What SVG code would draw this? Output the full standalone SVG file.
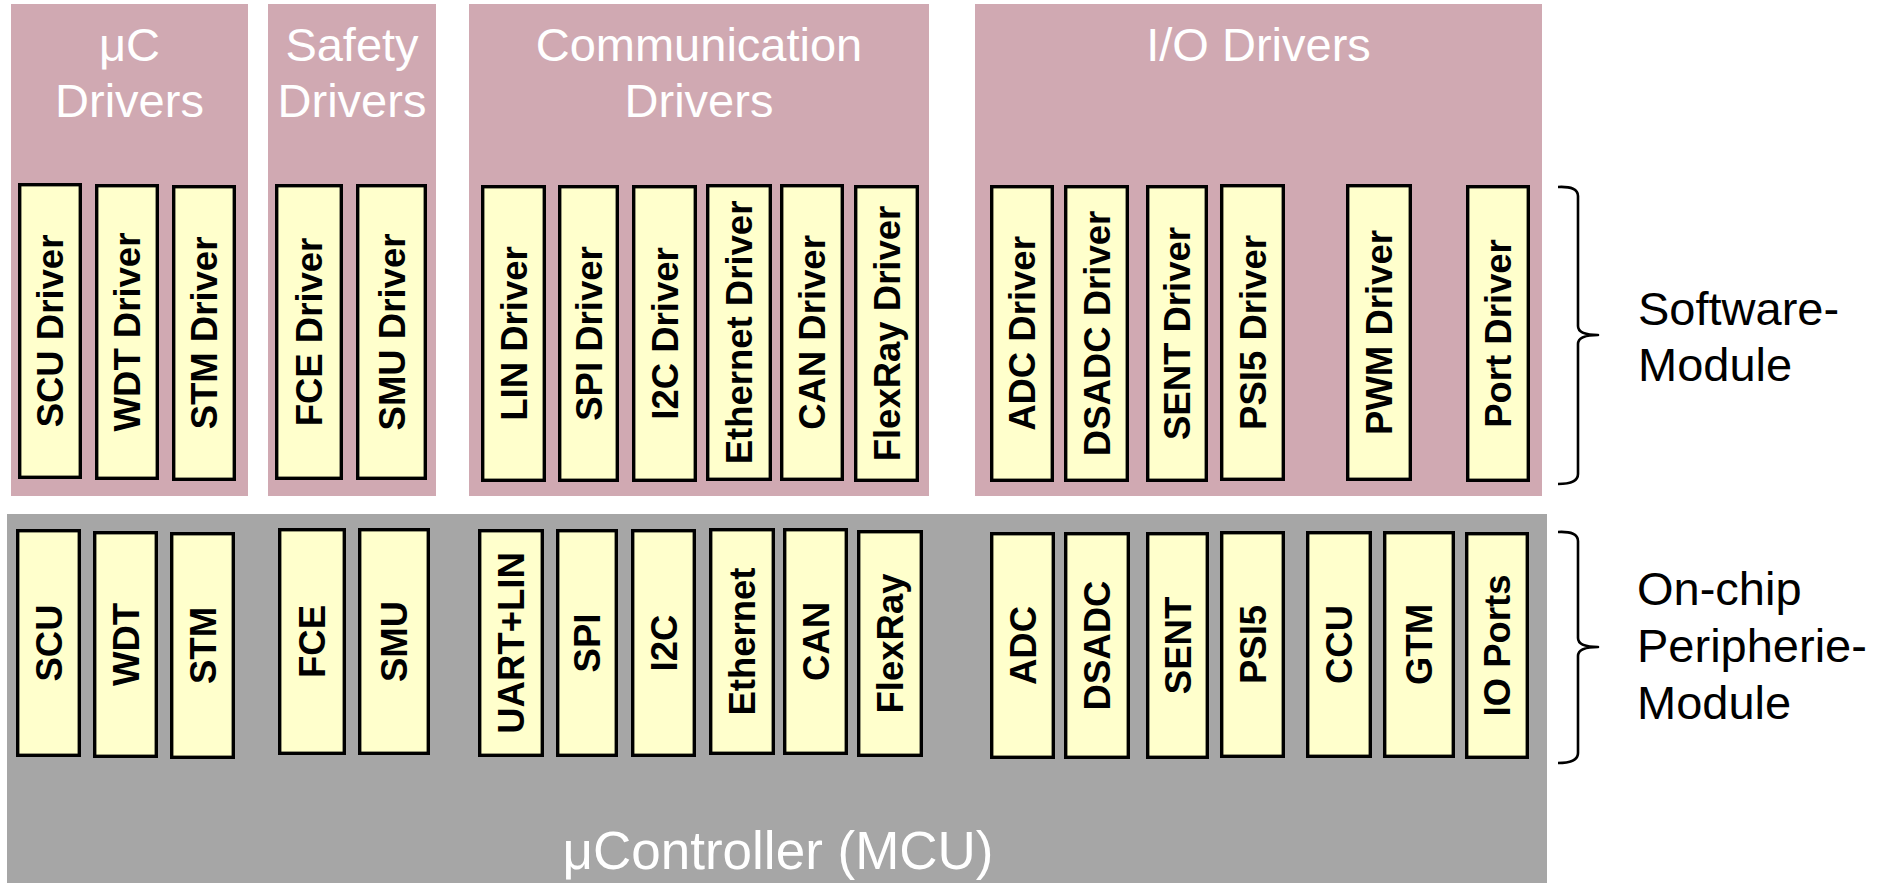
<svg xmlns="http://www.w3.org/2000/svg" width="1892" height="883" viewBox="0 0 1892 883">
  <style>
    .panel { fill: #D0A9B2; }
    .chip { fill: #A6A6A6; }
    .box { fill: #FFFFCC; stroke: #000000; stroke-width: 3.4; }
    .lbl { font-family: "Liberation Sans", Arial, Helvetica, sans-serif; font-weight: bold; font-size: 36.5px; fill: #000000; text-anchor: middle; }
    .head { font-family: "Liberation Sans", Arial, Helvetica, sans-serif; font-size: 47px; fill: #FFFFFF; text-anchor: middle; }
    .title { font-size: 53px; }
    .side { font-family: "Liberation Sans", Arial, Helvetica, sans-serif; font-size: 47px; fill: #000000; }
    .brace { fill: none; stroke: #000000; stroke-width: 2.6; stroke-linejoin: round; stroke-linecap: butt; }
  </style>

  <!-- background -->
  <rect x="0" y="0" width="1892" height="883" fill="#FFFFFF"/>

  <!-- microcontroller body -->
  <g id="mcu">
    <rect class="chip" x="7" y="514" width="1540" height="369"/>
    <text class="head title" x="778" y="869">μController (MCU)</text>
  </g>

  <!-- driver panels -->
  <g id="panel-uc">
    <rect class="panel" x="11" y="4" width="237" height="492"/>
    <text class="head" x="129.5" y="61">μC</text>
    <text class="head" x="129.5" y="117">Drivers</text>
  </g>
  <g id="panel-safety">
    <rect class="panel" x="268" y="4" width="168" height="492"/>
    <text class="head" x="352" y="61">Safety</text>
    <text class="head" x="352" y="117">Drivers</text>
  </g>
  <g id="panel-comm">
    <rect class="panel" x="469" y="4" width="460" height="492"/>
    <text class="head" x="699" y="61">Communication</text>
    <text class="head" x="699" y="117">Drivers</text>
  </g>
  <g id="panel-io">
    <rect class="panel" x="975" y="4" width="567" height="492"/>
    <text class="head" x="1258.5" y="61">I/O Drivers</text>
  </g>

  <!-- software modules (top row) -->
  <g id="sw-scu"><rect class="box" x="19.7" y="184.7" width="60.6" height="292.6"/><text class="lbl" transform="translate(50,331) rotate(-90)" y="13">SCU Driver</text></g>
  <g id="sw-wdt"><rect class="box" x="96.7" y="185.7" width="60.6" height="292.6"/><text class="lbl" transform="translate(127,332) rotate(-90)" y="13">WDT Driver</text></g>
  <g id="sw-stm"><rect class="box" x="173.7" y="186.7" width="60.6" height="292.6"/><text class="lbl" transform="translate(204,333) rotate(-90)" y="13">STM Driver</text></g>
  <g id="sw-fce"><rect class="box" x="276.7" y="185.7" width="64.6" height="292.6"/><text class="lbl" transform="translate(309,332) rotate(-90)" y="13">FCE Driver</text></g>
  <g id="sw-smu"><rect class="box" x="357.7" y="185.7" width="67.6" height="292.6"/><text class="lbl" transform="translate(391.5,332) rotate(-90)" y="13">SMU Driver</text></g>
  <g id="sw-lin"><rect class="box" x="482.7" y="186.7" width="61.6" height="293.6"/><text class="lbl" transform="translate(513.5,333.5) rotate(-90)" y="13">LIN Driver</text></g>
  <g id="sw-spi"><rect class="box" x="559.7" y="186.7" width="57.6" height="293.6"/><text class="lbl" transform="translate(588.5,333.5) rotate(-90)" y="13">SPI Driver</text></g>
  <g id="sw-i2c"><rect class="box" x="633.7" y="186.7" width="61.6" height="293.6"/><text class="lbl" transform="translate(664.5,333.5) rotate(-90)" y="13">I2C Driver</text></g>
  <g id="sw-eth"><rect class="box" x="707.7" y="185.7" width="62.6" height="293.6"/><text class="lbl" transform="translate(739,332.5) rotate(-90)" y="13">Ethernet Driver</text></g>
  <g id="sw-can"><rect class="box" x="781.7" y="185.7" width="60.6" height="293.6"/><text class="lbl" transform="translate(812,332.5) rotate(-90)" y="13">CAN Driver</text></g>
  <g id="sw-flexray"><rect class="box" x="855.7" y="186.7" width="61.6" height="293.6"/><text class="lbl" transform="translate(886.5,333.5) rotate(-90)" y="13">FlexRay Driver</text></g>
  <g id="sw-adc"><rect class="box" x="991.7" y="186.7" width="60.6" height="293.6"/><text class="lbl" transform="translate(1022,333.5) rotate(-90)" y="13">ADC Driver</text></g>
  <g id="sw-dsadc"><rect class="box" x="1065.7" y="186.7" width="61.6" height="293.6"/><text class="lbl" transform="translate(1096.5,333.5) rotate(-90)" y="13">DSADC Driver</text></g>
  <g id="sw-sent"><rect class="box" x="1147.7" y="186.7" width="58.6" height="293.6"/><text class="lbl" transform="translate(1177,333.5) rotate(-90)" y="13">SENT Driver</text></g>
  <g id="sw-psi5"><rect class="box" x="1221.7" y="185.7" width="61.6" height="293.6"/><text class="lbl" transform="translate(1252.5,332.5) rotate(-90)" y="13">PSI5 Driver</text></g>
  <g id="sw-pwm"><rect class="box" x="1347.7" y="185.7" width="62.6" height="293.6"/><text class="lbl" transform="translate(1379,332.5) rotate(-90)" y="13">PWM Driver</text></g>
  <g id="sw-port"><rect class="box" x="1467.7" y="186.7" width="60.6" height="293.6"/><text class="lbl" transform="translate(1498,333.5) rotate(-90)" y="13">Port Driver</text></g>

  <!-- on-chip peripheral modules (bottom row) -->
  <g id="hw-scu"><rect class="box" x="17.7" y="530.7" width="61.6" height="224.6"/><text class="lbl" transform="translate(48.5,643) rotate(-90)" y="13">SCU</text></g>
  <g id="hw-wdt"><rect class="box" x="94.7" y="532.7" width="61.6" height="223.6"/><text class="lbl" transform="translate(125.5,644.5) rotate(-90)" y="13">WDT</text></g>
  <g id="hw-stm"><rect class="box" x="171.7" y="533.7" width="61.6" height="223.6"/><text class="lbl" transform="translate(202.5,645.5) rotate(-90)" y="13">STM</text></g>
  <g id="hw-fce"><rect class="box" x="279.7" y="529.7" width="64.6" height="223.6"/><text class="lbl" transform="translate(312,641.5) rotate(-90)" y="13">FCE</text></g>
  <g id="hw-smu"><rect class="box" x="359.7" y="529.7" width="68.6" height="223.6"/><text class="lbl" transform="translate(394,641.5) rotate(-90)" y="13">SMU</text></g>
  <g id="hw-uart"><rect class="box" x="479.7" y="530.7" width="62.6" height="224.6"/><text class="lbl" transform="translate(511,643) rotate(-90)" y="13">UART+LIN</text></g>
  <g id="hw-spi"><rect class="box" x="557.7" y="530.7" width="58.6" height="224.6"/><text class="lbl" transform="translate(587,643) rotate(-90)" y="13">SPI</text></g>
  <g id="hw-i2c"><rect class="box" x="632.7" y="530.7" width="61.6" height="224.6"/><text class="lbl" transform="translate(663.5,643) rotate(-90)" y="13">I2C</text></g>
  <g id="hw-eth"><rect class="box" x="710.7" y="529.7" width="62.6" height="223.6"/><text class="lbl" transform="translate(742,641.5) rotate(-90)" y="13">Ethernet</text></g>
  <g id="hw-can"><rect class="box" x="784.7" y="529.7" width="61.6" height="223.6"/><text class="lbl" transform="translate(815.5,641.5) rotate(-90)" y="13">CAN</text></g>
  <g id="hw-flexray"><rect class="box" x="858.7" y="531.7" width="62.6" height="223.6"/><text class="lbl" transform="translate(890,643.5) rotate(-90)" y="13">FlexRay</text></g>
  <g id="hw-adc"><rect class="box" x="991.7" y="533.7" width="61.6" height="223.6"/><text class="lbl" transform="translate(1022.5,645.5) rotate(-90)" y="13">ADC</text></g>
  <g id="hw-dsadc"><rect class="box" x="1065.7" y="533.7" width="62.6" height="223.6"/><text class="lbl" transform="translate(1097,645.5) rotate(-90)" y="13">DSADC</text></g>
  <g id="hw-sent"><rect class="box" x="1147.7" y="533.7" width="59.6" height="223.6"/><text class="lbl" transform="translate(1177.5,645.5) rotate(-90)" y="13">SENT</text></g>
  <g id="hw-psi5"><rect class="box" x="1221.7" y="532.7" width="61.6" height="223.6"/><text class="lbl" transform="translate(1252.5,644.5) rotate(-90)" y="13">PSI5</text></g>
  <g id="hw-ccu"><rect class="box" x="1307.7" y="532.7" width="62.6" height="223.6"/><text class="lbl" transform="translate(1339,644.5) rotate(-90)" y="13">CCU</text></g>
  <g id="hw-gtm"><rect class="box" x="1384.7" y="532.7" width="68.6" height="223.6"/><text class="lbl" transform="translate(1419,644.5) rotate(-90)" y="13">GTM</text></g>
  <g id="hw-io"><rect class="box" x="1466.7" y="533.7" width="60.6" height="223.6"/><text class="lbl" transform="translate(1497,645.5) rotate(-90)" y="13">IO Ports</text></g>

  <!-- curly braces marking the two layers -->
  <g id="braces">
    <path class="brace" d="M1558,187 Q1578,186 1578,196 L1578,326 Q1578,335 1598,335 Q1578,335 1578,344 L1578,474 Q1578,484 1558,484"/>
    <path class="brace" d="M1558,532 Q1578,531 1578,541 L1578,638 Q1578,647 1598,647 Q1578,647 1578,656 L1578,753 Q1578,763 1558,763"/>
  </g>

  <!-- layer captions -->
  <g id="caption-sw">
    <text class="side" x="1638" y="325">Software-</text>
    <text class="side" x="1638" y="381">Module</text>
  </g>
  <g id="caption-hw">
    <text class="side" x="1637" y="605">On-chip</text>
    <text class="side" x="1637" y="662">Peripherie-</text>
    <text class="side" x="1637" y="719">Module</text>
  </g>
</svg>
